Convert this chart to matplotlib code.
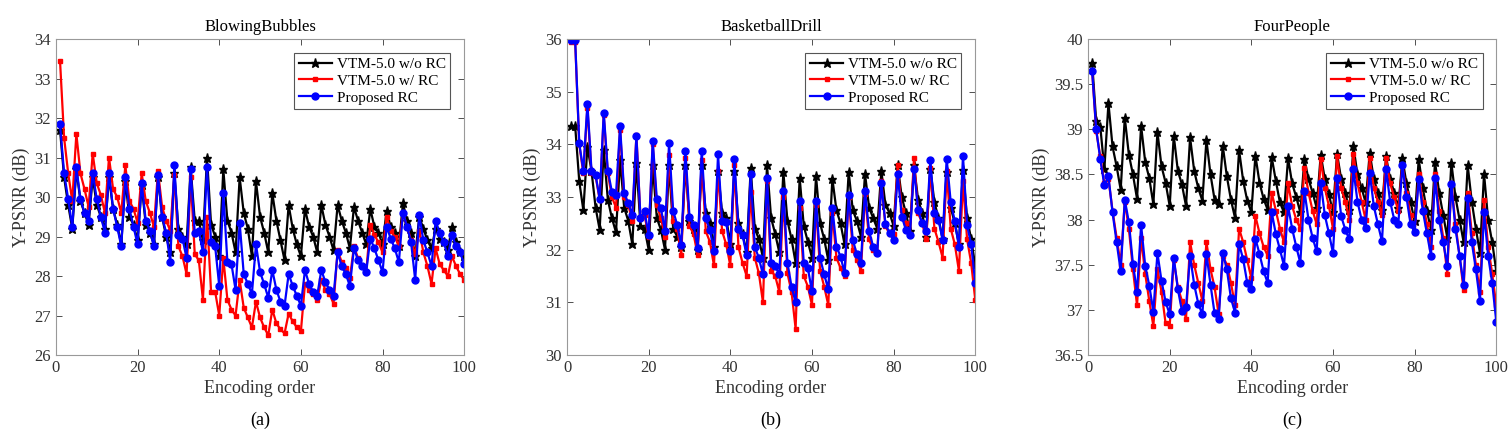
import matplotlib
matplotlib.use("Agg")
import matplotlib.pyplot as plt
from matplotlib.ticker import FormatStrFormatter

plt.rcParams['font.family'] = ['Liberation Serif', 'DejaVu Serif']

order = list(range(1, 101))  # encoding order of the frames
labels = ["VTM-5.0 w/o RC", "VTM-5.0 w/ RC", "Proposed RC"]

# (a) BlowingBubbles
bb_norc = [31.7, 30.5, 29.8, 29.2, 30.7, 29.9, 29.6, 29.3, 30.5, 29.8, 29.5, 29.2,
           30.5, 29.7, 29.3, 28.8, 30.4, 29.5, 29.3, 28.9, 30.3, 29.3, 29.1, 28.8,
           30.5, 29.5, 29.0, 28.6, 30.6, 29.2, 29.0, 28.8, 30.75, 29.4, 29.4, 28.9,
           31.0, 29.3, 29.0, 28.5, 30.7, 29.4, 29.1, 28.6, 30.5, 29.6, 29.2, 28.5,
           30.4, 29.5, 29.1, 28.6, 30.1, 29.4, 28.9, 28.4, 29.8, 29.2, 28.8, 28.5,
           29.7, 29.25, 29.0, 28.6, 29.8, 29.3, 29.0, 28.65, 29.8, 29.4, 29.1, 28.7,
           29.75, 29.4, 29.1, 28.8, 29.7, 29.25, 29.1, 28.8, 29.65, 29.25, 29.1, 28.75,
           29.85, 29.4, 29.1, 28.5, 29.5, 29.2, 28.9, 28.7, 29.2, 28.95, 28.85, 28.65,
           29.25, 28.85, 28.6, 28.5]
bb_rc = [33.45, 31.5, 30.6, 29.9, 31.6, 30.6, 30.2, 29.75, 31.1, 30.35, 30.05, 29.6,
         31.0, 30.2, 30.0, 29.6, 30.8, 29.9, 29.7, 29.35, 30.6, 29.9, 29.6, 29.25,
         30.65, 29.75, 29.4, 29.15, 30.55, 28.75, 28.5, 28.05, 30.5, 28.55, 28.4, 27.4,
         29.5, 27.6, 27.6, 27.0, 28.45, 27.4, 27.15, 27.0, 27.9, 27.2, 26.95, 26.7,
         27.35, 26.95, 26.7, 26.5, 27.15, 26.8, 26.65, 26.55, 27.05, 26.85, 26.7, 26.6,
         27.8, 27.65, 27.55, 27.4, 27.9, 27.65, 27.55, 27.3, 28.65, 28.35, 28.2, 27.95,
         28.75, 28.45, 28.25, 28.1, 29.3, 29.05, 28.85, 28.6, 29.5, 29.15, 29.0, 28.75,
         29.6, 29.25, 28.9, 28.55, 29.15, 28.6, 28.25, 27.8, 28.7, 28.3, 28.15, 28.0,
         28.5, 28.25, 28.05, 27.9]
bb_prop = [31.85, 30.6, 29.95, 29.25, 30.75, 29.95, 29.6, 29.4, 30.6, 29.95, 29.5, 29.1,
           30.6, 29.7, 29.25, 28.75, 30.5, 29.7, 29.25, 28.8, 30.35, 29.4, 29.15, 28.75,
           30.55, 29.5, 29.1, 28.35, 30.8, 29.05, 28.95, 28.45, 30.7, 29.1, 29.15, 28.6,
           30.75, 28.85, 28.75, 27.75, 30.1, 28.35, 28.3, 27.65, 29.35, 28.05, 27.8, 27.55,
           28.8, 28.1, 27.8, 27.45, 28.15, 27.65, 27.35, 27.25, 28.05, 27.75, 27.5, 27.25,
           28.15, 27.8, 27.6, 27.5, 28.15, 27.85, 27.65, 27.5, 28.6, 28.25, 28.05, 27.75,
           28.7, 28.4, 28.25, 28.1, 28.95, 28.7, 28.4, 28.1, 29.25, 28.95, 28.7, 28.35,
           29.6, 29.25, 28.85, 27.9, 29.55, 28.9, 28.6, 28.25, 29.4, 29.1, 28.85, 28.5,
           29.05, 28.75, 28.6, 28.3]

# (b) BasketballDrill
bd_norc = [34.35, 34.35, 33.3, 32.75, 33.95, 33.5, 32.8, 32.38, 33.9, 32.95, 32.6, 32.33,
           33.7, 32.8, 32.55, 32.1, 33.65, 32.45, 32.4, 32.0, 33.6, 32.6, 32.38, 32.0,
           33.6, 32.4, 32.25, 32.05, 33.6, 32.55, 32.4, 32.0, 33.6, 32.7, 32.5, 32.05,
           33.5, 32.7, 32.6, 32.1, 33.5, 32.5, 32.3, 31.95, 33.55, 32.4, 32.2, 31.85,
           33.6, 32.6, 32.3, 31.95, 33.47, 32.55, 32.2, 31.75, 33.36, 32.45, 32.15, 31.85,
           33.4, 32.5, 32.2, 31.8, 33.35, 32.75, 32.5, 32.1, 33.48, 32.75, 32.55, 32.25,
           33.44, 32.8, 32.6, 32.4, 33.5, 32.85, 32.7, 32.45, 33.6, 33.0, 32.7, 32.35,
           33.6, 32.95, 32.7, 32.25, 33.54, 32.9, 32.6, 32.2, 33.48, 32.8, 32.5, 32.1,
           33.51, 32.6, 32.2, 31.7]
bd_rc = [35.95, 35.95, 34.0, 33.45, 34.7, 33.45, 33.4, 32.95, 34.55, 33.45, 33.0, 32.8,
         34.28, 33.0, 32.85, 32.55, 34.18, 32.6, 32.65, 32.25, 34.0, 32.85, 32.6, 32.25,
         33.8, 32.55, 32.4, 31.9, 33.75, 32.45, 32.3, 31.9, 33.7, 32.35, 32.15, 31.7,
         33.5, 32.35, 32.1, 31.7, 33.6, 32.05, 31.75, 31.5, 33.1, 31.85, 31.55, 31.0,
         33.3, 31.6, 31.5, 31.2, 33.0, 31.55, 31.2, 30.5, 32.8, 31.5, 31.3, 30.95,
         32.85, 31.6, 31.3, 30.95, 32.7, 31.85, 31.65, 31.5, 33.0, 32.0, 31.8, 31.6,
         33.05, 32.2, 32.0, 31.95, 33.3, 32.45, 32.3, 32.3, 33.6, 32.75, 32.5, 32.3,
         33.75, 32.7, 32.5, 32.2, 33.55, 32.4, 32.15, 31.85, 33.5, 32.4, 32.1, 31.6,
         33.3, 32.2, 31.75, 31.05]
bd_prop = [35.98, 35.98, 34.02, 33.5, 34.77, 33.5, 33.42, 32.97, 34.6, 33.5, 33.1, 33.04,
           34.35, 33.08, 32.88, 32.66, 34.15, 32.6, 32.73, 32.28, 34.07, 32.96, 32.79, 32.35,
           34.02, 32.74, 32.47, 32.08, 33.88, 32.63, 32.47, 32.03, 33.88, 32.6, 32.38, 31.97,
           33.81, 32.54, 32.52, 31.97, 33.73, 32.39, 32.28, 31.89, 33.44, 32.06, 31.84, 31.53,
           33.36, 31.75, 31.69, 31.53, 33.12, 31.75, 31.3, 31.0, 32.93, 31.75, 31.65, 31.21,
           32.93, 31.84, 31.53, 31.25, 32.79, 32.06, 31.87, 31.56, 33.04, 32.19, 31.91, 31.75,
           33.12, 32.35, 32.06, 31.94, 33.26, 32.49, 32.32, 32.19, 33.44, 32.63, 32.38, 32.28,
           33.54, 32.76, 32.5, 32.35, 33.71, 32.69, 32.57, 32.19, 33.73, 32.9, 32.54, 32.06,
           33.78, 32.47, 32.1, 31.37]

# (c) FourPeople
fp_norc = [39.74, 39.09, 39.03, 38.56, 39.29, 38.81, 38.59, 38.33, 39.13, 38.72, 38.5, 38.23,
           39.04, 38.64, 38.46, 38.17, 38.97, 38.59, 38.41, 38.15, 38.93, 38.54, 38.39, 38.15,
           38.91, 38.54, 38.35, 38.21, 38.88, 38.5, 38.22, 38.17, 38.82, 38.48, 38.22, 38.02,
           38.77, 38.43, 38.21, 38.08, 38.71, 38.41, 38.23, 38.11, 38.69, 38.43, 38.19, 38.08,
           38.68, 38.4, 38.25, 38.08, 38.67, 38.45, 38.3, 38.13, 38.72, 38.45, 38.28, 38.08,
           38.73, 38.45, 38.3, 38.11, 38.81, 38.5, 38.35, 38.19, 38.74, 38.45, 38.3, 38.11,
           38.7, 38.45, 38.3, 38.13, 38.68, 38.4, 38.2, 37.98, 38.67, 38.35, 38.1, 37.89,
           38.64, 38.3, 38.05, 37.8, 38.63, 38.25, 38.0, 37.75, 38.6, 38.2, 37.9, 37.63,
           38.51, 38.0, 37.75, 37.43]
fp_rc = [39.65, 38.98, 38.7, 38.4, 38.45, 38.1, 37.8, 37.5, 38.2, 37.9, 37.45, 37.05,
         37.8, 37.4, 37.1, 36.82, 37.45, 37.2, 36.85, 36.82, 37.55, 37.25, 37.1, 36.9,
         37.75, 37.5, 37.3, 37.1, 37.75, 37.45, 37.25, 36.95, 37.6, 37.5, 37.3, 37.05,
         37.9, 37.75, 37.55, 37.35, 38.04, 37.85, 37.7, 37.6, 38.3, 38.1, 37.9, 37.75,
         38.4, 38.15, 38.0, 37.9, 38.57, 38.3, 38.1, 37.95, 38.67, 38.35, 38.15, 37.9,
         38.7, 38.35, 38.2, 38.0, 38.73, 38.4, 38.2, 38.0, 38.68, 38.35, 38.2, 38.05,
         38.68, 38.4, 38.25, 38.1, 38.61, 38.3, 38.05, 37.85, 38.5, 38.2, 37.95, 37.7,
         38.5, 38.1, 37.8, 37.4, 38.41, 37.95, 37.6, 37.22, 38.3, 37.85, 37.5, 37.2,
         38.22, 37.7, 37.4, 37.05]
fp_prop = [39.65, 39.0, 38.67, 38.38, 38.48, 38.08, 37.75, 37.43, 38.22, 37.97, 37.51, 37.2,
           37.94, 37.49, 37.27, 36.98, 37.63, 37.32, 37.09, 36.95, 37.58, 37.23, 36.99, 37.03,
           37.6, 37.28, 37.07, 36.95, 37.62, 37.28, 36.96, 36.9, 37.63, 37.45, 37.13, 36.97,
           37.73, 37.56, 37.3, 37.23, 37.79, 37.62, 37.43, 37.3, 38.08, 37.84, 37.67, 37.49,
           38.15, 37.9, 37.7, 37.52, 38.32, 38.0, 37.8, 37.65, 38.41, 38.05, 37.85, 37.63,
           38.46, 38.04, 37.89, 37.78, 38.56, 38.2, 38.0, 37.91, 38.52, 38.15, 37.95, 37.76,
           38.56, 38.2, 38.0, 37.95, 38.6, 38.25, 37.95, 37.86, 38.45, 38.1, 37.85, 37.6,
           38.46, 38.0, 37.75, 37.49, 38.39, 37.9, 37.6, 37.28, 38.24, 37.75, 37.45, 37.1,
           38.08, 37.6, 37.3, 36.87]

panels = [
    ("BlowingBubbles", bb_norc, bb_rc, bb_prop, (26, 34), [26, 27, 28, 29, 30, 31, 32, 33, 34], "(a)"),
    ("BasketballDrill", bd_norc, bd_rc, bd_prop, (30, 36), [30, 31, 32, 33, 34, 35, 36], "(b)"),
    ("FourPeople", fp_norc, fp_rc, fp_prop, (36.5, 40), [36.5, 37, 37.5, 38, 38.5, 39, 39.5, 40], "(c)"),
]
lefts = [0.037, 0.375, 0.7196]  # axes left edges (figure fraction)

fig = plt.figure(figsize=(15.12, 4.34), dpi=100)

for (title, norc, rc, prop, ylim, yticks, tag), left in zip(panels, lefts):
    ax = fig.add_axes([left, 0.182, 0.27, 0.728])
    ax.plot(order, norc, color="black", marker="*", markersize=6.5, linewidth=1.6, label=labels[0])
    ax.plot(order, rc, color="red", marker="s", markersize=2.8, linewidth=1.6, label=labels[1])
    ax.plot(order, prop, color="blue", marker="o", markersize=5, linewidth=1.6, label=labels[2])
    ax.set_xlim(0, 100)
    ax.set_ylim(*ylim)
    ax.set_xticks([0, 20, 40, 60, 80, 100])
    ax.set_yticks(yticks)
    ax.yaxis.set_major_formatter(FormatStrFormatter("%g"))
    ax.tick_params(direction="in", top=True, right=True, labelsize=12, colors="#333333",
                   length=4, width=0.6)
    for s in ax.spines.values():
        s.set_color("#999999")
        s.set_linewidth(0.8)
    ax.set_title(title, fontsize=12, pad=6)
    ax.set_xlabel("Encoding order", fontsize=13, color="#333333", labelpad=3)
    ax.set_ylabel("Y-PSNR (dB)", fontsize=13, color="#333333", labelpad=3)
    leg = ax.legend(loc="upper right", fontsize=11, fancybox=False, framealpha=1,
                    edgecolor="#555555", handlelength=2.2, borderpad=0.3,
                    labelspacing=0.2, borderaxespad=0.9, handletextpad=0.3)
    leg.get_frame().set_linewidth(0.8)
    fig.text(left + 0.135, 0.032, tag, ha="center", va="center", fontsize=13)

fig.savefig("out.png", dpi=100)
